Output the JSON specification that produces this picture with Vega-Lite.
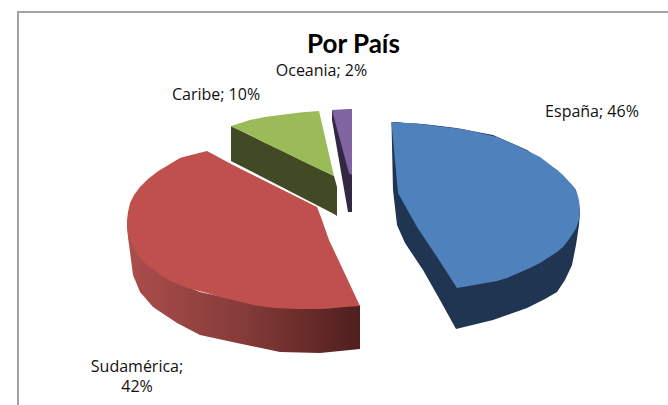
{
"$schema":"https://vega.github.io/schema/vega-lite/v6.json",
"width":668,"height":405,"padding":0,"autosize":{"type":"none"},
"background":"white",
"view":{"stroke":null},
"config":{"font":"Lato"},
"title":{"text":"Por País","font":"Lato","fontSize":26,"fontWeight":"bold","color":"#000000","anchor":"middle","dx":19.5,"offset":-58},
"datasets":{
"marco":[{"x":18,"x2":700,"y":12,"y2":430}],
"etiquetas":[
{"pais":"España","porcentaje":46,"linea":"España; 46%","x":592,"y":117},
{"pais":"Sudamérica","porcentaje":42,"linea":"Sudamérica;","x":137,"y":372},
{"pais":"Sudamérica","porcentaje":42,"linea":"42%","x":137,"y":392},
{"pais":"Caribe","porcentaje":10,"linea":"Caribe; 10%","x":216,"y":100},
{"pais":"Oceania","porcentaje":2,"linea":"Oceania; 2%","x":321.5,"y":76}
],
"caribeLado":[{"x":231,"a":126,"b":161},{"x":334,"a":176,"b":214},{"x":337,"a":187,"b":216}],
"caribeTapa":[{"x":231,"a":126,"b":126.5},{"x":250,"a":120,"b":135},{"x":265,"a":117,"b":143},{"x":280,"a":115,"b":150},{"x":300,"a":112.5,"b":160},{"x":319,"a":111,"b":169},{"x":334,"a":176,"b":176}],
"oceaniaLado":[{"x":332,"a":110,"b":120},{"x":348,"a":110,"b":212},{"x":352,"a":110,"b":212}],
"oceaniaTapa":[{"x":332,"a":110,"b":110.5},{"x":349,"a":109,"b":173},{"x":352,"a":109,"b":175}],
"sudLado":[{"x":127,"a":222,"b":226},{"x":128,"a":225,"b":237},{"x":133,"a":240,"b":275},{"x":140,"a":255,"b":292},{"x":153,"a":268,"b":307},{"x":177,"a":283,"b":323},{"x":200,"a":292,"b":335},{"x":237,"a":300,"b":343},{"x":280,"a":307,"b":352},{"x":320,"a":308,"b":353},{"x":360,"a":305,"b":349}],
"sudTapa":[{"x":127,"a":220,"b":226},{"x":128,"a":212,"b":235},{"x":130,"a":203,"b":239},{"x":134,"a":195,"b":249},{"x":140,"a":187,"b":258},{"x":148,"a":179,"b":266},{"x":157,"a":172,"b":272},{"x":160,"a":170,"b":275},{"x":170,"a":164,"b":281},{"x":180,"a":158,"b":285},{"x":187,"a":156,"b":288},{"x":207,"a":151,"b":293},{"x":220,"a":158,"b":297},{"x":233,"a":165,"b":300},{"x":253,"a":175,"b":305},{"x":275,"a":186,"b":308},{"x":297,"a":197,"b":309},{"x":317,"a":207,"b":309},{"x":322,"a":220,"b":309},{"x":329,"a":240,"b":308.5},{"x":345,"a":274,"b":307},{"x":360,"a":306,"b":306}],
"espLado":[{"x":391.5,"a":122,"b":123},{"x":393,"a":122,"b":190},{"x":397,"a":122,"b":225},{"x":405,"a":123,"b":243},{"x":423,"a":124,"b":270},{"x":440,"a":126,"b":300},{"x":456,"a":128,"b":329},{"x":493,"a":135,"b":320},{"x":527,"a":150,"b":308},{"x":545,"a":163,"b":299},{"x":557,"a":170,"b":292},{"x":565,"a":178,"b":280},{"x":572,"a":185,"b":265},{"x":576,"a":190,"b":245},{"x":579,"a":205,"b":225},{"x":580,"a":210,"b":212}],
"espTapa":[{"x":391.5,"a":122,"b":123},{"x":398,"a":122.5,"b":193},{"x":417,"a":123.5,"b":227},{"x":437,"a":126,"b":257},{"x":457,"a":128.5,"b":288},{"x":463,"a":129,"b":287},{"x":497,"a":137,"b":281},{"x":507,"a":141,"b":278},{"x":530,"a":152,"b":268},{"x":540,"a":157,"b":263},{"x":557,"a":170,"b":252},{"x":563,"a":175,"b":247},{"x":570,"a":183,"b":238},{"x":575,"a":189,"b":230},{"x":577,"a":193,"b":226},{"x":579,"a":200,"b":219},{"x":580,"a":210,"b":211}]
},
"encoding":{
"x":{"field":"x","type":"quantitative","scale":{"domain":[0,668],"nice":false,"zero":false},"axis":null},
"y":{"field":"a","type":"quantitative","scale":{"domain":[405,0],"nice":false,"zero":false},"axis":null},
"y2":{"field":"b"}
},
"layer":[
{"data":{"name":"marco"},"mark":{"type":"rect","fill":null,"stroke":"#a3a3a3","strokeWidth":2,"clip":true},"encoding":{"x":{"field":"x","type":"quantitative","scale":{"domain":[0,668],"nice":false,"zero":false},"axis":null},"x2":{"field":"x2"},"y":{"field":"y","type":"quantitative","scale":{"domain":[405,0],"nice":false,"zero":false},"axis":null},"y2":{"field":"y2"}}},
{"data":{"name":"caribeLado"},"mark":{"type":"area","color":"#404a24"}},
{"data":{"name":"caribeTapa"},"mark":{"type":"area","color":"#9bbb59"}},
{"data":{"name":"oceaniaLado"},"mark":{"type":"area","color":"#332744"}},
{"data":{"name":"oceaniaTapa"},"mark":{"type":"area","color":"#8064a2"}},
{"data":{"name":"sudLado"},"mark":{"type":"area","color":{"gradient":"linear","x1":0,"x2":1,"y1":0,"y2":0,"stops":[{"offset":0,"color":"#aa4e4c"},{"offset":0.5,"color":"#853b39"},{"offset":1,"color":"#4f1f1e"}]}}},
{"data":{"name":"sudTapa"},"mark":{"type":"area","color":"#c0504d"}},
{"data":{"name":"espLado"},"mark":{"type":"area","color":"#1f3552"}},
{"data":{"name":"espTapa"},"mark":{"type":"area","color":"#4f81bd"}},
{"data":{"name":"etiquetas"},"mark":{"type":"text","font":"Open Sans","fontSize":16,"color":"#111111","align":"center","baseline":"alphabetic"},"encoding":{"x":{"field":"x","type":"quantitative","scale":{"domain":[0,668],"nice":false,"zero":false},"axis":null},"y":{"field":"y","type":"quantitative","scale":{"domain":[405,0],"nice":false,"zero":false},"axis":null},"y2":null,"text":{"field":"linea"}}}
]
}
